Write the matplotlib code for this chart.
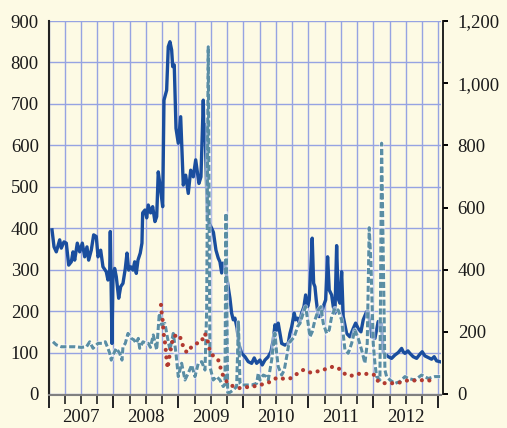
import numpy as np
import matplotlib
matplotlib.use('Agg')
import matplotlib.pyplot as plt
from matplotlib.ticker import MultipleLocator, FuncFormatter

plt.rcParams['font.family'] = ['Liberation Serif', 'DejaVu Serif']

# ---- data (decimal year, value) ----
# solid blue line, left axis
blue_t = [2007.054, 2007.085, 2007.120, 2007.172, 2007.197, 2007.238, 2007.274, 2007.311, 2007.351, 2007.377,
          2007.403, 2007.443, 2007.480, 2007.520, 2007.557, 2007.592, 2007.618, 2007.658, 2007.695, 2007.735,
          2007.762, 2007.803, 2007.838, 2007.889, 2007.915, 2007.942, 2007.951, 2007.977, 2007.992, 2008.018,
          2008.043, 2008.080, 2008.111, 2008.146, 2008.182, 2008.208, 2008.234, 2008.265, 2008.300, 2008.326,
          2008.351, 2008.377, 2008.412, 2008.438, 2008.449, 2008.485, 2008.511, 2008.535, 2008.572, 2008.603,
          2008.638, 2008.665, 2008.689, 2008.726, 2008.757, 2008.777, 2008.818, 2008.843, 2008.869, 2008.895,
          2008.911, 2008.935, 2008.962, 2008.997, 2009.034, 2009.049, 2009.074, 2009.111, 2009.151, 2009.188,
          2009.228, 2009.265, 2009.315, 2009.346, 2009.382, 2009.397, 2009.408, 2009.446, 2009.511, 2009.538,
          2009.577, 2009.612, 2009.638, 2009.665, 2009.689, 2009.715, 2009.792, 2009.818, 2009.843, 2009.869,
          2009.900, 2009.930, 2009.972, 2010.023, 2010.074, 2010.126, 2010.166, 2010.203, 2010.254, 2010.289,
          2010.331, 2010.382, 2010.423, 2010.458, 2010.485, 2010.511, 2010.535, 2010.562, 2010.588, 2010.638,
          2010.689, 2010.715, 2010.742, 2010.782, 2010.803, 2010.834, 2010.862, 2010.895, 2010.931, 2010.957,
          2010.988, 2011.012, 2011.038, 2011.058, 2011.080, 2011.100, 2011.120, 2011.151, 2011.192, 2011.228,
          2011.265, 2011.295, 2011.320, 2011.357, 2011.382, 2011.408, 2011.434, 2011.458, 2011.485, 2011.511,
          2011.535, 2011.588, 2011.638, 2011.689, 2011.726, 2011.766, 2011.808, 2011.843, 2011.895, 2011.920,
          2011.972, 2012.023, 2012.074, 2012.100, 2012.123, 2012.151, 2012.192, 2012.228, 2012.280, 2012.331,
          2012.382, 2012.434, 2012.458, 2012.485, 2012.531, 2012.562, 2012.612, 2012.665, 2012.715, 2012.751,
          2012.792, 2012.843, 2012.895, 2012.935, 2012.972, 2013.023]
blue_v = [396, 355, 343, 372, 352, 367, 364, 311, 319, 343,
          323, 364, 343, 364, 331, 355, 323, 347, 384, 380,
          331, 347, 307, 295, 275, 299, 392, 122, 283, 303,
          283, 231, 259, 267, 303, 340, 299, 307, 299, 319,
          291, 323, 340, 364, 437, 444, 425, 456, 437, 452,
          416, 428, 536, 492, 452, 709, 733, 838, 850, 830,
          790, 794, 641, 605, 669, 605, 504, 528, 484, 540,
          524, 565, 508, 524, 709, 613, 650, 420, 400, 390,
          347, 328, 319, 292, 316, 310, 231, 195, 179, 183,
          160, 120, 98, 90, 78, 74, 87, 74, 82, 70,
          82, 90, 102, 130, 167, 154, 171, 146, 122, 118,
          122, 146, 162, 195, 179, 183, 170, 195, 211, 239,
          211, 227, 307, 376, 267, 259, 227, 187, 187, 211,
          227, 331, 251, 239, 211, 195, 358, 230, 219, 295,
          187, 146, 138, 158, 171, 158, 150, 179, 199, 199,
          138, 134, 175, 167, 170, 100, 95, 90, 86, 94,
          100, 110, 102, 98, 104, 98, 90, 86, 96, 102,
          92, 88, 84, 90, 80, 78]

# dashed teal line, right axis
teal_t = [2007.069, 2007.120, 2007.197, 2007.300, 2007.408, 2007.505, 2007.585, 2007.634, 2007.685, 2007.762,
          2007.823, 2007.874, 2007.915, 2007.942, 2007.966, 2007.992, 2008.043, 2008.095, 2008.131, 2008.146,
          2008.182, 2008.223, 2008.274, 2008.315, 2008.351, 2008.382, 2008.403, 2008.454, 2008.505, 2008.535,
          2008.569, 2008.612, 2008.665, 2008.705, 2008.742, 2008.792, 2008.828, 2008.869, 2008.920, 2008.962,
          2008.997, 2009.049, 2009.100, 2009.151, 2009.203, 2009.254, 2009.305, 2009.357, 2009.408, 2009.434,
          2009.458, 2009.485, 2009.535, 2009.588, 2009.638, 2009.689, 2009.715, 2009.731, 2009.757, 2009.792,
          2009.843, 2009.895, 2009.923, 2009.946, 2009.972, 2010.049, 2010.126, 2010.203, 2010.228, 2010.254,
          2010.305, 2010.357, 2010.382, 2010.408, 2010.434, 2010.458, 2010.485, 2010.511, 2010.535, 2010.588,
          2010.628, 2010.665, 2010.700, 2010.742, 2010.782, 2010.834, 2010.869, 2010.920, 2010.957, 2010.988,
          2011.023, 2011.058, 2011.100, 2011.151, 2011.192, 2011.228, 2011.280, 2011.320, 2011.357, 2011.408,
          2011.458, 2011.511, 2011.562, 2011.612, 2011.665, 2011.715, 2011.766, 2011.818, 2011.869, 2011.905,
          2011.935, 2011.962, 2011.982, 2011.997, 2012.023, 2012.049, 2012.100, 2012.126, 2012.177, 2012.203,
          2012.254, 2012.331, 2012.408, 2012.485, 2012.535, 2012.638, 2012.742, 2012.843, 2012.946, 2013.040]
teal_v = [168, 158, 152, 152, 152, 150, 152, 168, 147, 163,
          163, 168, 147, 131, 109, 125, 147, 131, 109, 152,
          163, 195, 179, 174, 163, 179, 147, 168, 163, 163,
          150, 190, 142, 260, 222, 227, 184, 142, 195, 131,
          56, 99, 45, 67, 93, 56, 99, 104, 77, 270,
          1117, 88, 45, 56, 45, 24, 30, 582, 5, 5,
          13, 24, 232, 35, 29, 29, 29, 34, 67, 45,
          61, 56, 45, 77, 109, 152, 195, 131, 88, 61,
          77, 120, 163, 174, 184, 217, 227, 260, 281, 238,
          184, 200, 238, 270, 281, 227, 195, 206, 249, 276,
          270, 238, 142, 131, 163, 206, 179, 142, 99, 163,
          535, 420, 270, 163, 99, 56, 45, 807, 77, 56,
          45, 34, 40, 56, 50, 45, 61, 50, 56, 56]

# dotted red line, left axis
red_t = [2008.731, 2008.742, 2008.757, 2008.766, 2008.777, 2008.797, 2008.808, 2008.818, 2008.834, 2008.849,
         2008.869, 2008.895, 2008.920, 2008.997, 2009.049, 2009.074, 2009.131, 2009.203, 2009.280, 2009.357,
         2009.397, 2009.434, 2009.458, 2009.485, 2009.535, 2009.612, 2009.638, 2009.680, 2009.742, 2009.823,
         2009.923, 2010.023, 2010.131, 2010.223, 2010.305, 2010.408, 2010.511, 2010.612, 2010.723, 2010.828,
         2010.920, 2011.023, 2011.126, 2011.228, 2011.305, 2011.382, 2011.485, 2011.577, 2011.689, 2011.803,
         2011.920, 2012.023, 2012.074, 2012.177, 2012.305, 2012.418, 2012.551, 2012.665, 2012.792, 2012.895]
red_v = [215, 195, 177, 158, 138, 120, 100, 80, 62, 80,
         98, 118, 138, 144, 130, 112, 100, 114, 122, 126,
         146, 140, 122, 102, 92, 82, 68, 47, 30, 20,
         14, 16, 18, 20, 24, 29, 39, 37, 38, 49,
         58, 52, 54, 58, 63, 66, 60, 46, 44, 50,
         48, 46, 30, 26, 26, 28, 34, 32, 34, 32]

years = [2007, 2008, 2009, 2010, 2011, 2012]
left_ticks = list(range(0, 1000, 100))
right_ticks = list(range(0, 1400, 200))

BG = '#FDFAE4'
GRID = '#96A3E2'

fig = plt.figure(figsize=(5.07, 4.28), dpi=100, facecolor=BG)
ax = fig.add_axes([48.5 / 507, 1 - 394 / 428, 392.5 / 507, 373 / 428])
ax.set_facecolor(BG)
ax2 = ax.twinx()

ax.set_xlim(2007.0, 2013.04)
ax.set_ylim(0, 900)
ax2.set_ylim(0, 1200)

# lines (teal is drawn in ax with the right axis scale so it stacks above blue)
ax.plot(blue_t, blue_v, color='#1A4E9E', lw=2.4, solid_joinstyle='round', zorder=2)
ax.plot(teal_t, teal_v, color='white', lw=3.4, alpha=0.55, transform=ax2.transData, zorder=2.5)
ax.plot(teal_t, teal_v, color='#5A8EA4', lw=2.2, linestyle=(0, (2.0, 0.9)),
        transform=ax2.transData, zorder=3)
ax.plot(red_t, red_v, color='#B23A30', lw=3.0, linestyle=(0, (0.01, 1.8)),
        dash_capstyle='round', zorder=4)

# grid
ax.xaxis.set_major_locator(MultipleLocator(1))
ax.xaxis.set_minor_locator(MultipleLocator(0.25))
ax.set_yticks(left_ticks)
ax.set_axisbelow(True)
ax.grid(axis='x', which='both', color=GRID, lw=1.0)
ax.grid(axis='y', which='major', color=GRID, lw=1.0)

# spines
for s in ['top', 'right']:
    ax.spines[s].set_visible(False)
for s in ['top', 'left', 'bottom']:
    ax2.spines[s].set_visible(False)
ax.spines['left'].set_color('#222222')
ax.spines['left'].set_linewidth(1.5)
ax.spines['bottom'].set_color('#808080')
ax.spines['bottom'].set_linewidth(1.5)
ax.spines['bottom'].set_position(('outward', 1))
ax2.spines['right'].set_color('#111111')
ax2.spines['right'].set_linewidth(1.3)
ax2.spines['right'].set_position(('outward', 1.5))

# ticks
ax.tick_params(axis='y', length=0, pad=7, labelsize=13.5, labelcolor='#1a1a1a')
ax.tick_params(axis='x', which='major', length=9, width=1.4, color='#222222', labelbottom=False)
ax.tick_params(axis='x', which='minor', length=6.5, width=1.2, color='#222222')
ax2.set_yticks(right_ticks)
ax2.yaxis.set_major_formatter(FuncFormatter(lambda v, p: f'{v:,.0f}'))
ax2.tick_params(axis='y', length=3.5, width=1.4, pad=7, labelsize=13.5, labelcolor='#1a1a1a')

# year labels centred under each year
for y in years:
    ax.text(y + 0.5, -0.064, str(y), transform=ax.get_xaxis_transform(),
            ha='center', va='center', fontsize=13.5, color='#1a1a1a')

fig.savefig('out.png', dpi=100, facecolor=BG)
